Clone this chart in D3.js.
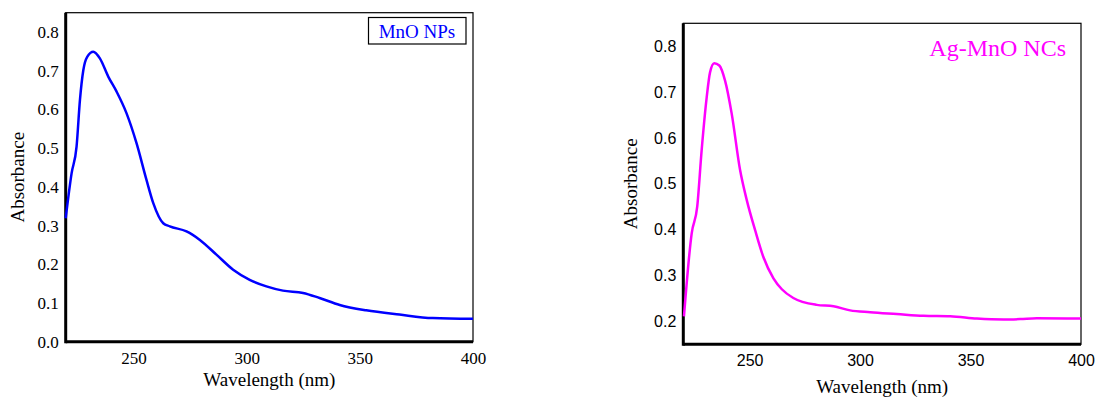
<!DOCTYPE html>
<html><head><meta charset="utf-8">
<script src="https://cdn.jsdelivr.net/npm/d3@7/dist/d3.min.js"></script>
<style>body{margin:0;background:#fff}svg{display:block}</style>
</head><body>
<svg id="c" width="1096" height="398"></svg>
<script>
const mnoWavelength = [220,222.6,224.8,226.3,227.8,229.5,232.2,235.1,238.8,242.5,246.9,251.3,255.7,258.7,263.1,266,273.4,279.3,286.6,294,301.3,308.7,316,324.9,332.2,341.1,352.8,367.5,382.2,400];
const mnoAbs = [0.319,0.435,0.504,0.625,0.702,0.736,0.749,0.732,0.685,0.646,0.590,0.513,0.418,0.358,0.306,0.298,0.285,0.263,0.225,0.186,0.160,0.143,0.132,0.126,0.113,0.095,0.081,0.070,0.061,0.059];
const agWavelength = [220.3,223.8,226.3,228.3,230.6,232.1,234,236.3,238.9,241.9,245.7,248.7,252.5,256.2,260.8,264.6,269.8,280.4,288,295.5,304.6,316.6,328.7,340.8,352.9,365,372.5,380,400];
const agAbs = [0.211,0.392,0.45,0.573,0.689,0.743,0.763,0.758,0.725,0.653,0.53,0.465,0.399,0.341,0.294,0.270,0.251,0.236,0.233,0.224,0.220,0.216,0.212,0.211,0.206,0.204,0.205,0.207,0.206];
const xTicks = [250,300,350,400];
const mnoYTicks = [0,0.1,0.2,0.3,0.4,0.5,0.6,0.7,0.8];
const agYTicks = [0.2,0.3,0.4,0.5,0.6,0.7,0.8];

const svg = d3.select("#c");
const serif = "'Liberation Serif','Times New Roman',serif";
const sans = "'Liberation Sans',Arial,sans-serif";

function panel(o){
  const g = svg.append("g");
  const x = d3.scaleLinear().domain([220,400]).range([o.l,o.r]);
  const y = d3.scaleLinear().domain(o.yDom).range([o.b,o.t]);
  g.append("rect").attr("x",o.l).attr("y",o.t).attr("width",o.r-o.l).attr("height",o.b-o.t)
    .attr("fill","none").attr("stroke","#000").attr("stroke-width",1.2);
  const xa = g.append("g").attr("transform",`translate(0,${o.b})`)
    .call(d3.axisBottom(x).tickValues(xTicks).tickSize(0).tickPadding(o.xPad));
  xa.select(".domain").remove();
  xa.selectAll("text").attr("font-family",o.tickFont).attr("font-size",o.tickSize).attr("fill","#000");
  const ya = g.append("g").attr("transform",`translate(${o.l},0)`)
    .call(d3.axisLeft(y).tickValues(o.yTicks).tickFormat(d3.format(".1f")).tickSize(0).tickPadding(o.yPad));
  ya.select(".domain").remove();
  ya.selectAll("text").attr("font-family",o.tickFont).attr("font-size",o.tickSize).attr("fill","#000");
  g.append("line").attr("x1",o.l).attr("x2",o.l).attr("y1",o.t).attr("y2",o.b+1.5).attr("stroke","#000").attr("stroke-width",3);
  g.append("line").attr("x1",o.l).attr("x2",o.r).attr("y1",o.b).attr("y2",o.b).attr("stroke","#000").attr("stroke-width",3);
  const line = d3.line().x(d=>x(d[0])).y(d=>y(d[1])).curve(d3.curveMonotoneX);
  g.append("path").datum(o.xs.map((v,i)=>[v,o.ys[i]]))
    .attr("d",line).attr("fill","none").attr("stroke",o.color).attr("stroke-width",2.5);
  g.append("text").attr("x",(o.l+o.r)/2).attr("y",o.xLabY).attr("text-anchor","middle")
    .attr("font-family",serif).attr("font-size",19).text("Wavelength (nm)");
  g.append("text").attr("transform",`translate(${o.yLabX},${(o.t+o.b)/2}) rotate(-90)`)
    .attr("text-anchor","middle").attr("font-family",serif).attr("font-size",19).text("Absorbance");
  return {g,x,y};
}

const p1 = panel({l:65.7,r:473,t:12.7,b:341.7,yDom:[0,0.85],yTicks:mnoYTicks,xs:mnoWavelength,ys:mnoAbs,
  color:"#0000ff",tickFont:serif,tickSize:17,xPad:10,yPad:7,xLabY:386,yLabX:24});
p1.g.append("rect").attr("x",368.5).attr("y",17.5).attr("width",97.5).attr("height",26.5)
  .attr("fill","#fff").attr("stroke","#000").attr("stroke-width",1.2);
p1.g.append("text").attr("x",417).attr("y",37.5).attr("text-anchor","middle")
  .attr("font-family",serif).attr("font-size",19).attr("fill","#0000ff").text("MnO NPs");

const p2 = panel({l:683.3,r:1081,t:23.3,b:344.3,yDom:[0.15,0.85],yTicks:agYTicks,xs:agWavelength,ys:agAbs,
  color:"#ff00ff",tickFont:sans,tickSize:16,xPad:10,yPad:7,xLabY:393,yLabX:637});
p2.g.append("text").attr("x",1066).attr("y",56).attr("text-anchor","end")
  .attr("font-family",serif).attr("font-size",24).attr("fill","#ff00ff").text("Ag-MnO NCs");
</script>
</body></html>
